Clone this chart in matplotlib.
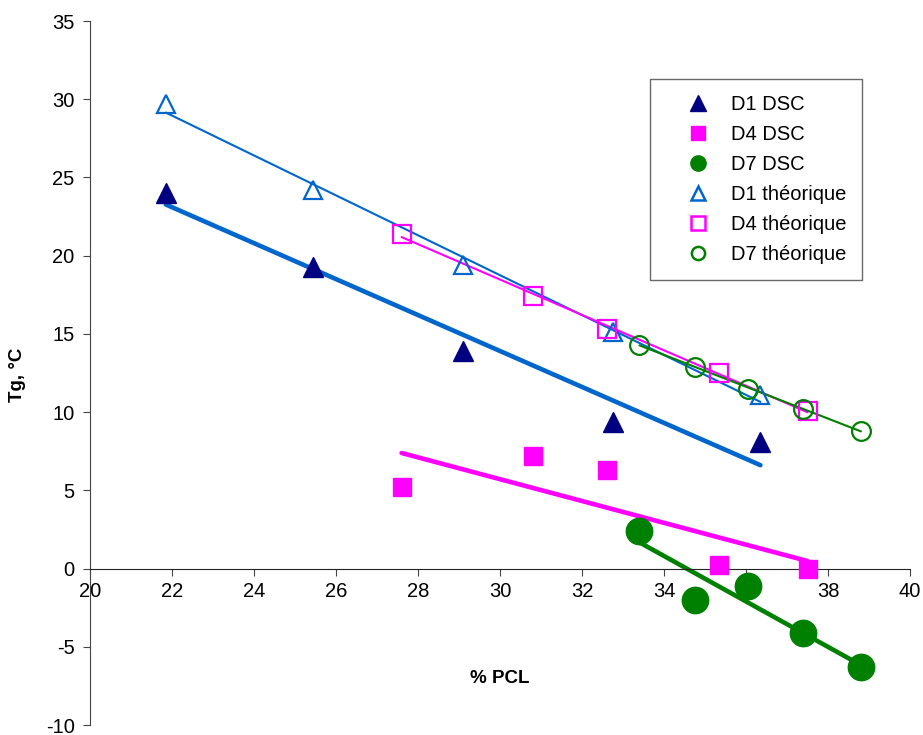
import numpy as np
import matplotlib
matplotlib.use("Agg")
import matplotlib.pyplot as plt
from matplotlib.lines import Line2D

plt.rcParams['font.family'] = ['Liberation Sans', 'DejaVu Sans']
plt.rcParams['axes.unicode_minus'] = False

pcl_d1 = [21.85, 25.45, 29.1, 32.75, 36.35]
pcl_d4 = [27.6, 30.8, 32.6, 35.35, 37.5]
pcl_d7 = [33.4, 34.75, 36.05, 37.4, 38.8]

tg_d1_dsc = [24.0, 19.3, 13.9, 9.4, 8.1]
tg_d4_dsc = [5.2, 7.2, 6.3, 0.2, 0.0]
tg_d7_dsc = [2.4, -2.0, -1.1, -4.1, -6.3]

tg_d1_th = [29.7, 24.2, 19.4, 15.1, 11.1]
tg_d4_th = [21.4, 17.4, 15.3, 12.5, 10.1]
tg_d7_th = [14.3, 12.9, 11.5, 10.2, 8.8]

labels = ['D1 DSC', 'D4 DSC', 'D7 DSC', 'D1 théorique', 'D4 théorique', 'D7 théorique']
xticks = [20, 22, 24, 26, 28, 30, 32, 34, 36, 38, 40]
yticks = [-10, -5, 0, 5, 10, 15, 20, 25, 30, 35]

navy = '#000080'
blue = '#0066cc'
mag = '#ff00ff'
green = '#008000'

fig = plt.figure(figsize=(9.23, 7.35), dpi=100)
ax = fig.add_axes([0.0975, 0.0136, 0.8885, 0.9578])

def trend(x, y, color, lw):
    x = np.array(x); y = np.array(y)
    p = np.polyfit(x, y, 1)
    xs = np.array([x.min(), x.max()])
    ax.plot(xs, np.polyval(p, xs), color=color, lw=lw, solid_capstyle='round', zorder=2)

trend(pcl_d1, tg_d1_dsc, blue, 3.3)
trend(pcl_d4, tg_d4_dsc, mag, 3.3)
trend(pcl_d7, tg_d7_dsc, green, 3.3)
trend(pcl_d1, tg_d1_th, blue, 1.5)
trend(pcl_d4, tg_d4_th, mag, 1.5)
trend(pcl_d7, tg_d7_th, green, 1.5)

ax.plot(pcl_d1, tg_d1_dsc, ls='none', marker='^', ms=14, color=navy, mec=navy, zorder=3)
ax.plot(pcl_d4, tg_d4_dsc, ls='none', marker='s', ms=13.5, color=mag, mec=mag, zorder=3)
ax.plot(pcl_d7, tg_d7_dsc, ls='none', marker='o', ms=19, color=green, mec=green, zorder=3)
ax.plot(pcl_d1, tg_d1_th, ls='none', marker='^', ms=13.5, mfc='none', mec=blue, mew=1.6, zorder=3)
ax.plot(pcl_d4, tg_d4_th, ls='none', marker='s', ms=13, mfc='none', mec=mag, mew=1.6, zorder=3)
ax.plot(pcl_d7, tg_d7_th, ls='none', marker='o', ms=13.5, mfc='none', mec=green, mew=1.6, zorder=3)

handles = [
    Line2D([], [], ls='none', marker='^', ms=11, color=navy),
    Line2D([], [], ls='none', marker='s', ms=10, color=mag),
    Line2D([], [], ls='none', marker='o', ms=11, color=green),
    Line2D([], [], ls='none', marker='^', ms=10, mfc='none', mec=blue, mew=1.8),
    Line2D([], [], ls='none', marker='s', ms=9.5, mfc='none', mec=mag, mew=1.8),
    Line2D([], [], ls='none', marker='o', ms=9.5, mfc='none', mec=green, mew=1.8),
]

ax.set_xlim(20, 40)
ax.set_ylim(-10, 35)
ax.set_xticks(xticks)
ax.set_yticks(yticks)
ax.spines['top'].set_visible(False)
ax.spines['right'].set_visible(False)
ax.spines['bottom'].set_position(('data', 0))
ax.spines['left'].set_color('#444444')
ax.spines['bottom'].set_color('#222222')
ax.tick_params(axis='both', labelsize=14.5, direction='out', length=5, color='#444444')
ax.tick_params(axis='x', pad=5)
ax.tick_params(axis='y', pad=6)

ax.text(30, -7.0, '% PCL', ha='center', va='center', fontsize=13.5, fontweight='bold')
fig.text(0.0195, 0.49, 'Tg, °C', rotation=90, ha='center', va='center', fontsize=13.5, fontweight='bold')

leg = ax.legend(handles, labels, loc='upper left', bbox_to_anchor=(0.683, 0.918), frameon=True,
                fancybox=False, edgecolor='#444444', fontsize=14.5, handlelength=3.2,
                labelspacing=0.55, borderpad=0.8, handletextpad=0.0, borderaxespad=0)
leg.get_frame().set_linewidth(1.0)

fig.savefig('out.png', dpi=100)
